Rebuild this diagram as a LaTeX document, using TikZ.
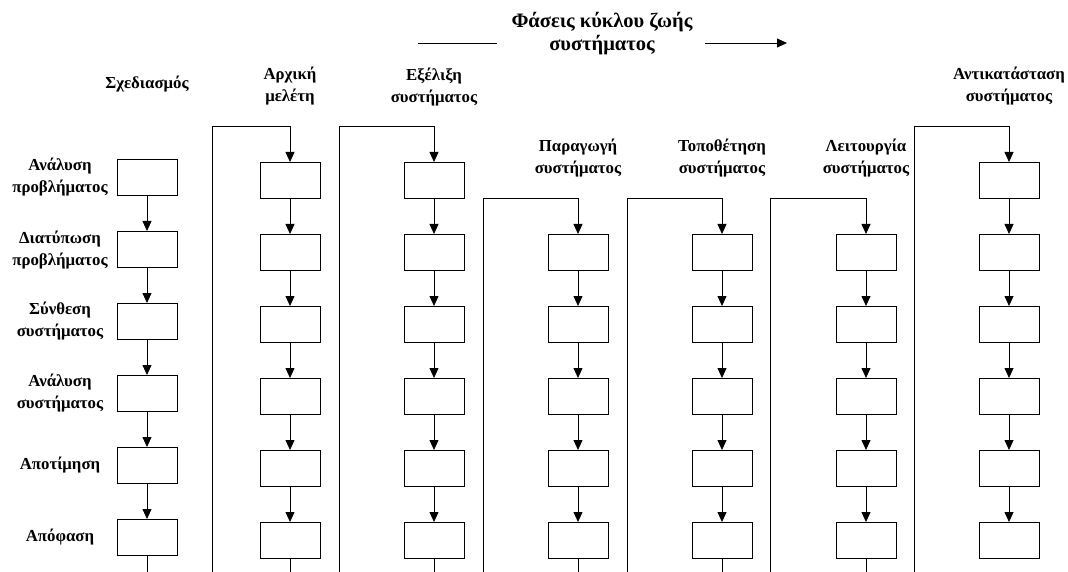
\documentclass[tikz,border=0pt]{standalone}
\usepackage{fontspec}
\setmainfont{Liberation Serif}
\usetikzlibrary{arrows.meta}
\tikzset{
  stagebox/.style={draw, line width=0.8pt, minimum width=60pt, minimum height=36pt, inner sep=0pt, anchor=north},
  lbl/.style={font=\bfseries\fontsize{16.8}{22}\selectfont, align=center, inner sep=0pt},
  ttl/.style={font=\bfseries\fontsize{20.5}{23}\selectfont, align=center, inner sep=0pt},
  wire/.style={line width=0.8pt},
  arr/.style={line width=0.8pt, -{Triangle[width=9pt,length=10pt]}}
}
\begin{document}
\begin{tikzpicture}[x=1pt,y=-1pt]
\useasboundingbox (0,0) rectangle (1068,572);

% title with the direction arrow
\node[ttl] (title) at (602,34) {Φάσεις κύκλου ζωής\\συστήματος};
\coordinate (ta) at (418,43); \coordinate (tb) at (497,43);
\coordinate (tc) at (705,43); \coordinate (td) at (787,43);
\draw[wire] (ta) -- (tb);
\draw[arr] (tc) -- (td);

% column headings
\node[lbl] (h1) at (147,84) {Σχεδιασμός};
\node[lbl] (h2) at (290,86) {Αρχική\\μελέτη};
\node[lbl] (h3) at (434,87) {Εξέλιξη\\συστήματος};
\node[lbl] (h4) at (578,158) {Παραγωγή\\συστήματος};
\node[lbl] (h5) at (722,158) {Τοποθέτηση\\συστήματος};
\node[lbl] (h6) at (866,158) {Λειτουργία\\συστήματος};
\node[lbl] (h7) at (1009,86) {Αντικατάσταση\\συστήματος};

% row labels of the design column
\node[lbl] (r1) at (60,177) {Ανάλυση\\προβλήματος};
\node[lbl] (r2) at (60,250) {Διατύπωση\\προβλήματος};
\node[lbl] (r3) at (60,321) {Σύνθεση\\συστήματος};
\node[lbl] (r4) at (60,393) {Ανάλυση\\συστήματος};
\node[lbl] (r5) at (60,465) {Αποτίμηση};
\node[lbl] (r6) at (60,537) {Απόφαση};

% boxes: column/x/top of first row/first row
\foreach \c/\x/\t/\f in {1/147/159/1, 2/290/162/1, 3/434/162/1, 4/578/162/2, 5/722/162/2, 6/866/162/2, 7/1009/162/1}{
  \foreach \r in {\f,...,6}{
    \node[stagebox] (b-\c-\r) at (\x,{\t+72*(\r-1)}) {};
  }
}

% arrows down each column
\foreach \c/\f in {1/1, 2/1, 3/1, 4/2, 5/2, 6/2, 7/1}{
  \foreach \r [evaluate=\r as \n using int(\r+1)] in {\f,...,5}{
    \draw[arr] (b-\c-\r) -- (b-\c-\n);
  }
}

% lines leaving the last box at the bottom edge
\foreach \c/\x in {1/147, 2/290, 3/434, 4/578, 5/722, 6/866}{
  \coordinate (e\c) at (\x,572);
  \draw[wire] (b-\c-6) -- (e\c);
}

% separators feeding the first box of the next column
\foreach \c/\x/\y/\f in {2/212/126/1, 3/339/126/1, 4/483/198/2, 5/627/198/2, 6/770/198/2, 7/914/126/1}{
  \coordinate (sb\c) at (\x,572);
  \coordinate (st\c) at (\x,\y);
  \draw[arr] (sb\c) -- (st\c) -| (b-\c-\f.north);
}
\end{tikzpicture}
\end{document}
